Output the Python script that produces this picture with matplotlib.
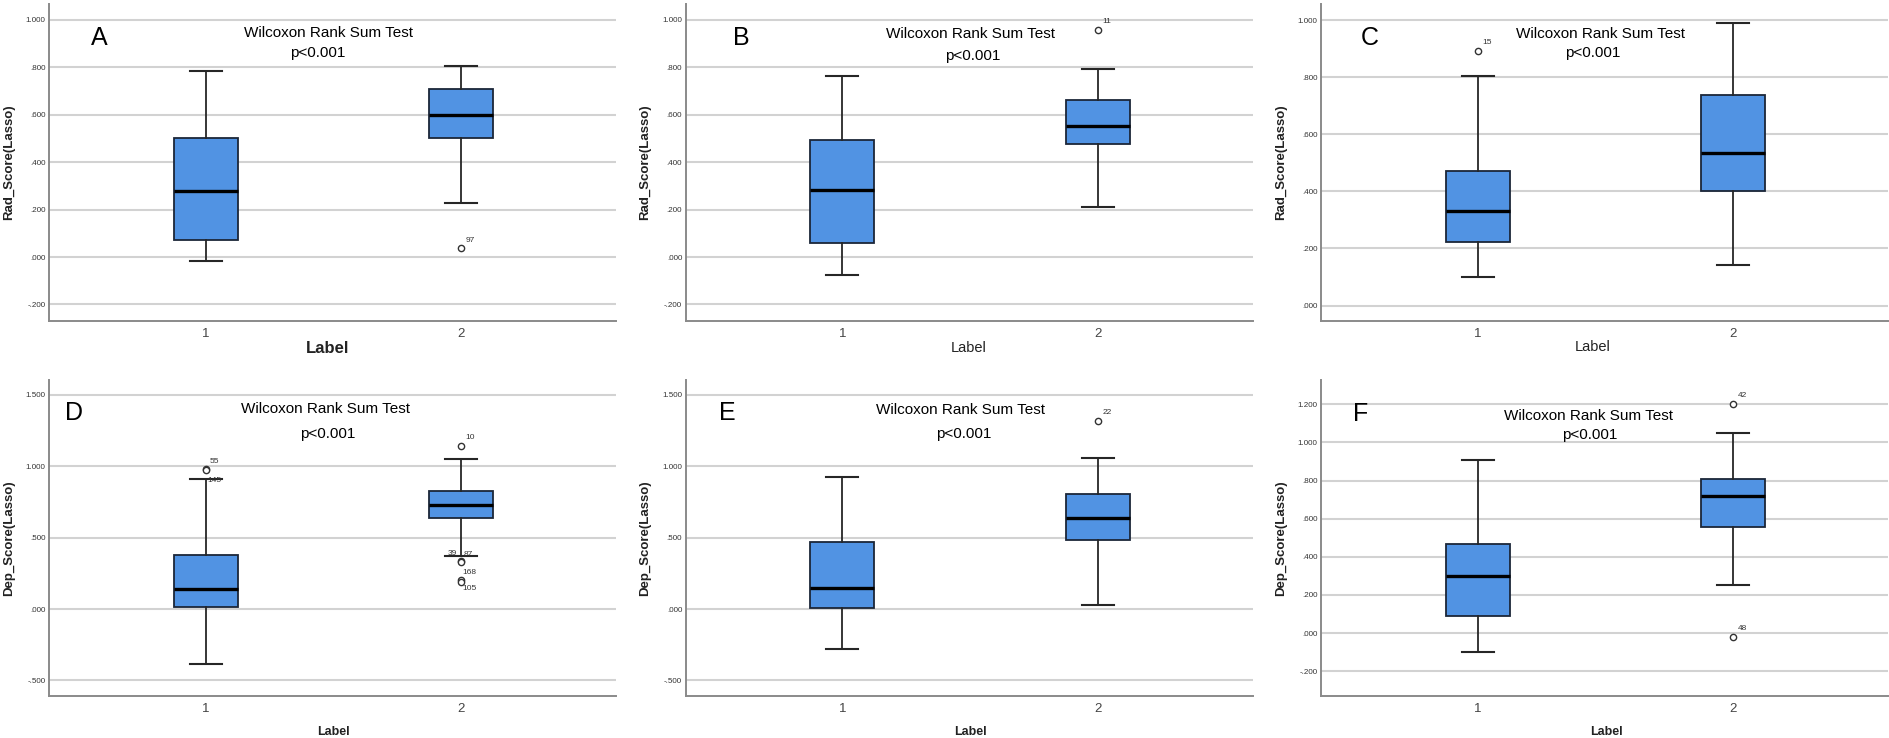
import matplotlib

matplotlib.use("Agg")
import matplotlib.pyplot as plt
from matplotlib.ticker import FixedLocator, FuncFormatter

plt.rcParams["font.family"] = ["Liberation Sans", "DejaVu Sans"]

# ---- data (per panel: group 1, group 2) ----
PANELS = ["A", "B", "C", "D", "E", "F"]
Y_TITLES = ["Rad_Score(Lasso)"] * 3 + ["Dep_Score(Lasso)"] * 3
GROUPS = [1, 2]

WHISKER_LOW = [[-0.018, 0.228], [-0.076, 0.212], [0.100, 0.142],
               [-0.386, 0.372], [-0.283, 0.028], [-0.101, 0.253]]
Q1 = [[0.072, 0.500], [0.058, 0.475], [0.224, 0.402],
      [0.016, 0.640], [0.005, 0.481], [0.091, 0.556]]
MEDIAN = [[0.280, 0.600], [0.283, 0.553], [0.331, 0.533],
          [0.140, 0.731], [0.145, 0.640], [0.302, 0.719]]
Q3 = [[0.500, 0.707], [0.492, 0.662], [0.470, 0.736],
      [0.376, 0.827], [0.472, 0.804], [0.465, 0.811]]
WHISKER_HIGH = [[0.786, 0.806], [0.765, 0.792], [0.804, 0.990],
                [0.911, 1.054], [0.923, 1.056], [0.906, 1.051]]

OUTLIERS = [[[], [0.037]], [[], [0.958]], [[0.892], []],
            [[0.979, 0.972], [1.145, 0.334, 0.331, 0.203, 0.192]],
            [[], [1.318]], [[], [1.203, -0.019]]]
OUTLIER_IDS = [[[], ["97"]], [[], ["11"]], [["15"], []],
               [["55", "145"], ["10", "39", "87", "168", "105"]],
               [[], ["22"]], [[], ["42", "48"]]]

Y_TICKS = [[-0.2, 0.0, 0.2, 0.4, 0.6, 0.8, 1.0],
           [-0.2, 0.0, 0.2, 0.4, 0.6, 0.8, 1.0],
           [0.0, 0.2, 0.4, 0.6, 0.8, 1.0],
           [-0.5, 0.0, 0.5, 1.0, 1.5],
           [-0.5, 0.0, 0.5, 1.0, 1.5],
           [-0.2, 0.0, 0.2, 0.4, 0.6, 0.8, 1.0, 1.2]]
Y_LIMITS = [(-0.27, 1.067), (-0.27, 1.067), (-0.054, 1.056),
            (-0.609, 1.604), (-0.609, 1.604), (-0.33, 1.327)]

TEST_NAME = "Wilcoxon Rank Sum Test"
P_TEXT = "p<0.001"

# ---- layout (figure fractions / axes fractions) ----
AX_LEFT = [0.0259, 0.3628, 0.699]
AX_WIDTH = 0.300
ROW_BOTTOM = [0.565, 0.0569]
ROW_HEIGHT = [0.4295, 0.428]

LETTER_POS = [(0.088, 0.893), (0.098, 0.893), (0.086, 0.893),
              (0.045, 0.896), (0.074, 0.896), (0.070, 0.894)]
TITLE_POS = [(0.493, 0.908), (0.502, 0.905), (0.493, 0.905),
             (0.487, 0.910), (0.484, 0.907), (0.472, 0.887)]
P_POS = [(0.474, 0.845), (0.506, 0.836), (0.479, 0.845),
         (0.492, 0.831), (0.491, 0.831), (0.474, 0.826)]
XLABEL_POS = [(0.492, -0.088), (0.499, -0.085), (0.479, -0.081),
              (0.501, -0.114), (0.503, -0.114), (0.503, -0.114)]
XLABEL_STYLE = [(12, "bold"), (10.5, "normal"), (10.5, "normal"),
                (9, "bold"), (9, "bold"), (9, "bold")]

# offsets (points) for outlier id labels, default up-right
ID_OFFSET = {"145": (1.5, -7.0), "39": (-9.5, 5.5), "87": (2.0, 5.5),
             "168": (1.0, 5.5), "105": (1.0, -5.0)}
DEFAULT_OFFSET = (3.0, 5.8)

BOX_BLUE = "#5193e3"
GRID = "#d2d2d2"
SPINE = "#8a8a8a"


def fmt_tick(v, _pos=None):
    s = f"{v:.3f}"
    return s.replace("0.", ".", 1) if abs(v) < 1 else s


fig = plt.figure(figsize=(18.9, 7.38), dpi=100)

for i, name in enumerate(PANELS):
    row, col = divmod(i, 3)
    ax = fig.add_axes([AX_LEFT[col], ROW_BOTTOM[row], AX_WIDTH, ROW_HEIGHT[row]])

    stats = []
    for g in range(2):
        stats.append(
            {
                "whislo": WHISKER_LOW[i][g],
                "q1": Q1[i][g],
                "med": MEDIAN[i][g],
                "q3": Q3[i][g],
                "whishi": WHISKER_HIGH[i][g],
                "fliers": OUTLIERS[i][g],
            }
        )
    ax.bxp(
        stats,
        positions=GROUPS,
        widths=0.25,
        capwidths=0.125,
        patch_artist=True,
        boxprops=dict(facecolor=BOX_BLUE, edgecolor="#1b2638", linewidth=1.3),
        medianprops=dict(color="black", linewidth=2.4),
        whiskerprops=dict(color="#262626", linewidth=1.3),
        capprops=dict(color="#262626", linewidth=1.5),
        flierprops=dict(marker="o", markersize=4.5, markerfacecolor="white",
                        markeredgecolor="#333333", markeredgewidth=1.0),
        zorder=3,
    )

    for g, pos in enumerate(GROUPS):
        for val, label in zip(OUTLIERS[i][g], OUTLIER_IDS[i][g]):
            dx, dy = ID_OFFSET.get(label, DEFAULT_OFFSET)
            ax.annotate(label, (pos, val), xytext=(dx, dy), textcoords="offset points",
                        fontsize=6, color="#333333", ha="left", va="center", zorder=4)

    ax.set_xlim(0.387, 2.605)
    ax.set_ylim(*Y_LIMITS[i])
    ax.yaxis.set_major_locator(FixedLocator(Y_TICKS[i]))
    ax.yaxis.set_major_formatter(FuncFormatter(fmt_tick))
    ax.set_xticks(GROUPS)
    ax.set_xticklabels([str(g) for g in GROUPS])
    ax.tick_params(axis="y", length=0, pad=2.5, labelsize=5.8, labelcolor="#333333")
    ax.tick_params(axis="x", length=0, pad=5, labelsize=9.5, labelcolor="#444444")
    ax.grid(axis="y", color=GRID, linewidth=1.5, zorder=0)
    ax.set_axisbelow(True)
    for side in ("top", "right"):
        ax.spines[side].set_visible(False)
    for side in ("left", "bottom"):
        ax.spines[side].set_color(SPINE)
        ax.spines[side].set_linewidth(1.4)

    ax.text(*LETTER_POS[i], name, transform=ax.transAxes, fontsize=18,
            ha="center", va="center")
    ax.text(*TITLE_POS[i], TEST_NAME, transform=ax.transAxes, fontsize=11,
            ha="center", va="center")
    ax.text(*P_POS[i], P_TEXT, transform=ax.transAxes, fontsize=11,
            ha="center", va="center")
    size, weight = XLABEL_STYLE[i]
    ax.text(*XLABEL_POS[i], "Label", transform=ax.transAxes, fontsize=size,
            fontweight=weight, ha="center", va="center", color="#222222")
    ax.text(-0.071, 0.5, Y_TITLES[i], transform=ax.transAxes, fontsize=9.5,
            fontweight="bold", rotation=90, ha="center", va="center", color="#222222")

fig.savefig("out.png", dpi=100)
plt.close(fig)
